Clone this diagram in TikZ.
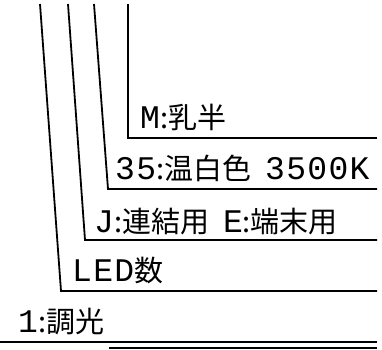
\documentclass[tikz,border=0pt]{standalone}
\usepackage{fontspec}
\newfontfamily\jpfont{Noto Sans CJK JP}
\newfontfamily\latfont[LetterSpace=4]{Liberation Mono}
\newcommand{\jp}[1]{{\jpfont\fontsize{29}{29}\selectfont #1}}
\newcommand{\lt}[1]{{\latfont\fontsize{33}{33}\selectfont #1}}
\newcommand{\gap}{\hspace{14pt}}
\tikzset{
    lbl/.style = {anchor = base west, inner sep = 0pt},
    lead/.style = {line width = 1.8pt}
}
\begin{document}
\begin{tikzpicture}[x = 1pt, y = -1pt]
    \useasboundingbox (0,0) rectangle (382,349);
    % leader lines, outermost first
    \coordinate (dimtop) at (40,4);   \coordinate (dimcorner) at (61,291);  \coordinate (dimend) at (377,291);
    \coordinate (jtop) at (68,4);     \coordinate (jcorner) at (85,240);    \coordinate (jend) at (377,240);
    \coordinate (coltop) at (94,4);   \coordinate (colcorner) at (108,189); \coordinate (colend) at (377,189);
    \coordinate (mtop) at (128,4);    \coordinate (mcorner) at (128,138);   \coordinate (mend) at (377,138);
    \draw[lead] (dimtop) -- (dimcorner) -- (dimend);
    \draw[lead] (jtop) -- (jcorner) -- (jend);
    \draw[lead] (coltop) -- (colcorner) -- (colend);
    \draw[lead] (mtop) -- (mcorner) -- (mend);
    % labels
    \node[lbl] (mlbl) at (140,128) {\lt{M}\jp{:乳半}};
    \node[lbl] (collbl) at (115,179) {\lt{35}\jp{:温白色}\gap\lt{3500K}};
    \node[lbl] (jlbl) at (94,232) {\lt{J}\jp{:連結用}\gap\lt{E}\jp{:端末用}};
    \node[lbl] (ledlbl) at (72,281) {\lt{LED}\jp{数}};
    \node[lbl] (dimlbl) at (18,332) {\lt{1}\jp{:調光}};
    % bottom rules
    \coordinate (ruleA) at (0,342);   \coordinate (ruleAend) at (377,342);
    \coordinate (ruleB) at (109,348); \coordinate (ruleBend) at (377,348);
    \draw[lead] (ruleA) -- (ruleAend);
    \draw[lead] (ruleB) -- (ruleBend);
\end{tikzpicture}
\end{document}
